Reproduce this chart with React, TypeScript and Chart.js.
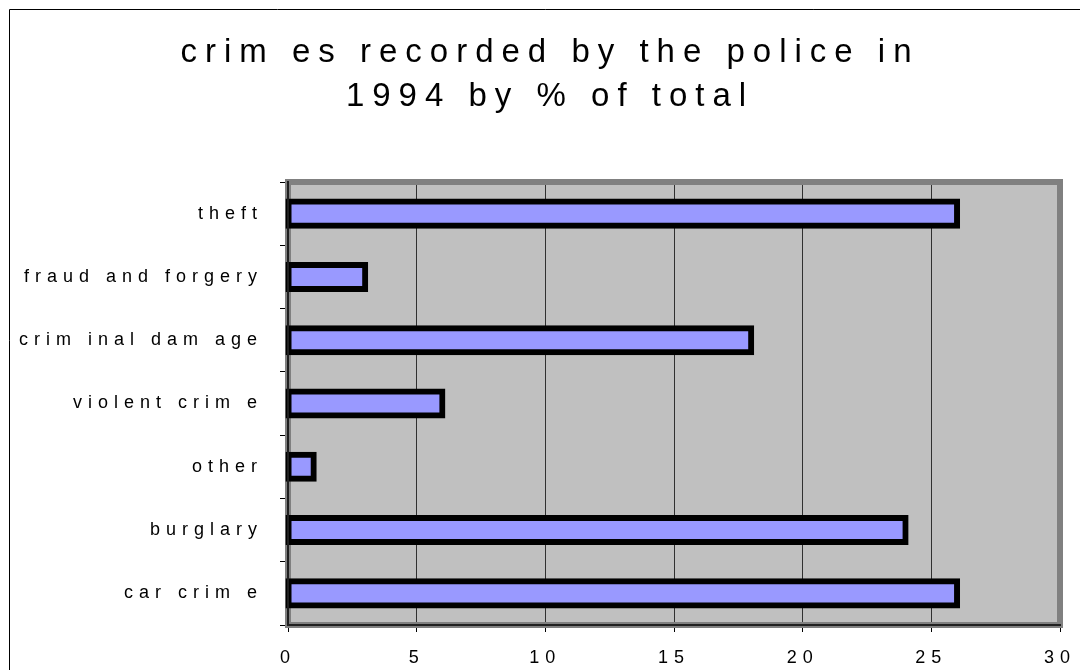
import React, { useEffect, useRef } from 'react';
import { Chart, registerables } from 'chart.js';

Chart.register(...registerables);

const titleLines = ['crim es recorded by the police in', '1994 by % of total'];
const categories = [
  'theft',
  'fraud and forgery',
  'crim inal dam age',
  'violent crim e',
  'other',
  'burglary',
  'car crim e',
];
const values = [26, 3, 18, 6, 1, 24, 26];
const xMin = 0;
const xMax = 30;
const xStep = 5;

const FONT = '"Liberation Sans", Arial, Helvetica, sans-serif';

const framePlugin = {
  id: 'framePlugin',
  beforeUpdate(chart: any) {
    chart.ctx.letterSpacing = '6px';
  },
  beforeLayout(chart: any) {
    chart.ctx.letterSpacing = '6px';
  },
  beforeDraw(chart: any) {
    const ctx = chart.ctx;
    ctx.letterSpacing = '6px';
    const { left, top, right, bottom } = chart.chartArea;
    ctx.save();
    ctx.fillStyle = '#ffffff';
    ctx.fillRect(0, 0, chart.width, chart.height);
    ctx.strokeStyle = '#000000';
    ctx.lineWidth = 1;
    ctx.beginPath();
    ctx.moveTo(9.5, chart.height + 2);
    ctx.lineTo(9.5, 9.5);
    ctx.lineTo(chart.width + 2, 9.5);
    ctx.stroke();
    ctx.fillStyle = '#c0c0c0';
    ctx.fillRect(left, top, right - left, bottom - top);
    ctx.restore();
    const tb = chart.titleBlock;
    if (tb && !tb.__ls) {
      const orig = tb.draw;
      tb.draw = function (...args: any[]) {
        const c = chart.ctx;
        c.save();
        c.letterSpacing = '8px';
        c.translate(20, 0);
        orig.apply(this, args);
        c.restore();
      };
      tb.__ls = true;
    }
  },
  beforeDatasetsDraw(chart: any) {
    const ctx = chart.ctx;
    const { left, top, right, bottom } = chart.chartArea;
    ctx.save();
    ctx.strokeStyle = '#808080';
    ctx.lineWidth = 6;
    ctx.strokeRect(left, top, right - left, bottom - top);
    ctx.restore();
  },
};

export default function App() {
  const canvasRef = useRef<HTMLCanvasElement | null>(null);

  useEffect(() => {
    if (!canvasRef.current) return;
    Chart.defaults.font.family = FONT;
    const chart = new Chart(canvasRef.current, {
      type: 'bar',
      data: {
        labels: categories,
        datasets: [
          {
            data: values,
            backgroundColor: '#9999ff',
            borderColor: '#000000',
            borderWidth: 6,
            borderSkipped: false,
            inflateAmount: 3,
            barPercentage: 0.38,
            categoryPercentage: 1,
            clip: false,
          } as any,
        ],
      },
      options: {
        indexAxis: 'y',
        responsive: false,
        animation: false,
        devicePixelRatio: 1,
        layout: { padding: { left: 0, right: 20, top: 0, bottom: 0 } },
        plugins: {
          legend: { display: false },
          tooltip: { enabled: false },
          title: {
            display: true,
            text: titleLines,
            color: '#000000',
            font: { family: FONT, size: 33, weight: 'normal', lineHeight: 44 / 33 },
            padding: { top: 31, bottom: 63 },
          },
        },
        scales: {
          x: {
            type: 'linear',
            min: xMin,
            max: xMax,
            ticks: {
              stepSize: xStep,
              color: '#000000',
              font: { family: FONT, size: 18 },
              padding: 15,
            },
            grid: {
              color: (ctx: any) =>
                ctx.tick && (ctx.tick.value === xMin || ctx.tick.value === xMax)
                  ? 'rgba(0,0,0,0)'
                  : '#303030',
              tickColor: '#000000',
              tickLength: 7,
              lineWidth: 1,
            },
            border: { display: true, color: '#202020', width: 2, z: 1 },
            afterFit: (scale: any) => {
              scale.height = 45;
              scale.paddingLeft = 0;
              scale.paddingRight = 0;
            },
          },
          y: {
            type: 'category',
            ticks: {
              color: '#000000',
              font: { family: FONT, size: 18 },
              padding: 17,
            },
            grid: {
              offset: true,
              drawOnChartArea: false,
              drawTicks: true,
              tickLength: 8,
              color: '#000000',
              lineWidth: 1,
            },
            border: { display: true, color: '#202020', width: 2, z: 1 },
            afterFit: (scale: any) => {
              scale.width = 288;
              scale.paddingTop = 0;
              scale.paddingBottom = 0;
            },
          },
        },
      },
      plugins: [framePlugin as any],
    } as any);
    return () => chart.destroy();
  }, []);

  return (
    <div style={{ position: 'absolute', left: 0, top: 0, width: 1080, height: 670, background: '#fff' }}>
      <canvas ref={canvasRef} width={1080} height={670} style={{ display: 'block', width: 1080, height: 670 }} />
    </div>
  );
}
